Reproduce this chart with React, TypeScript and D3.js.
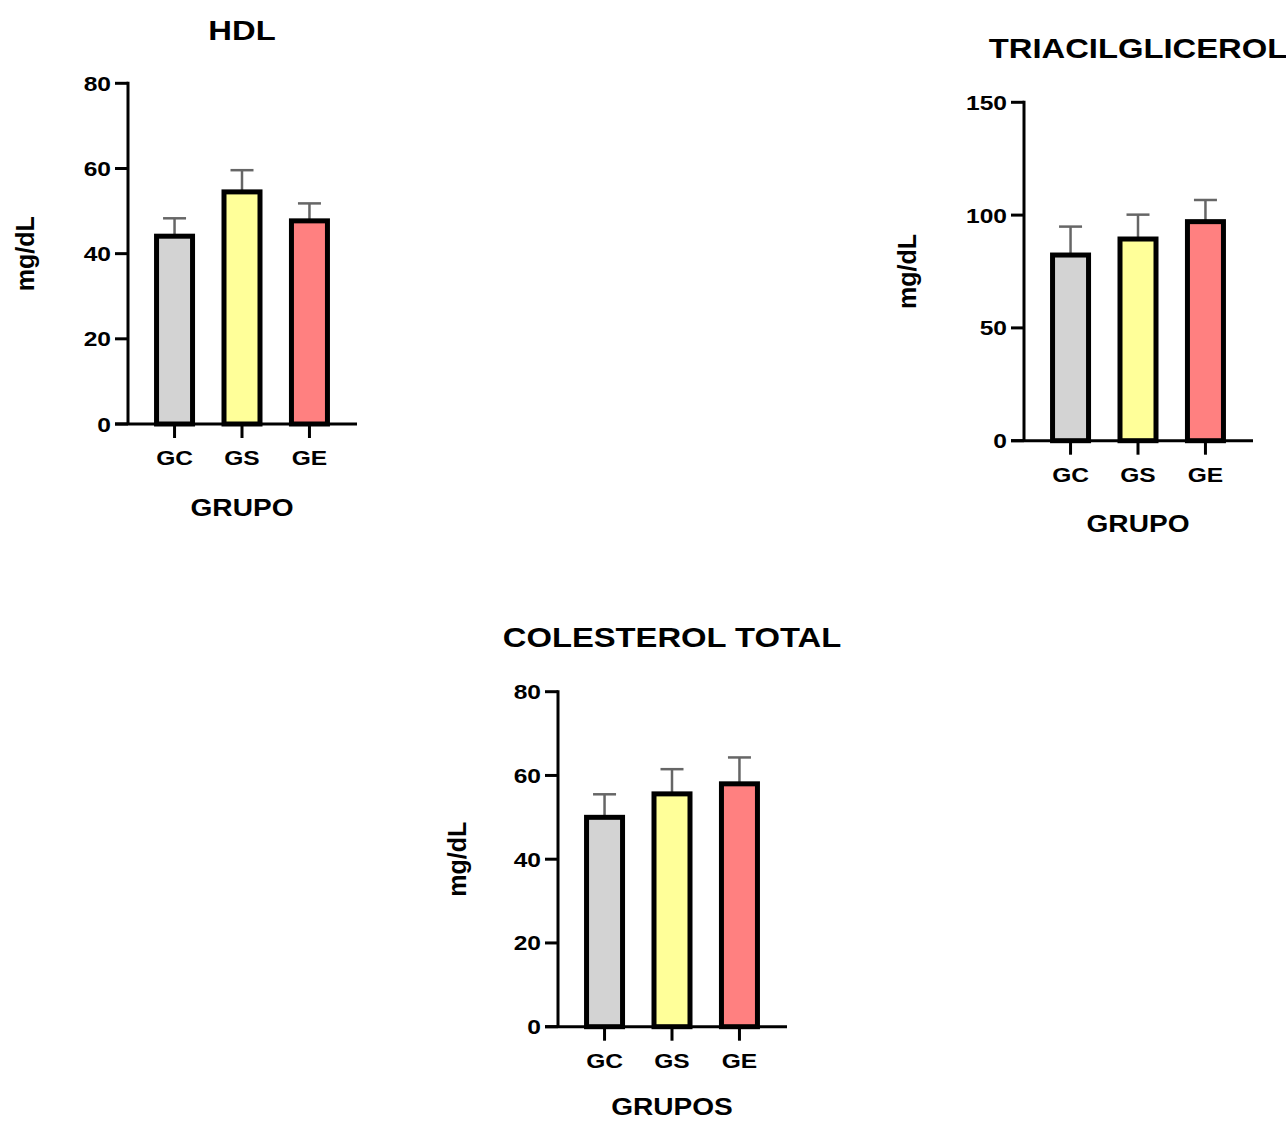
import React from "react";
import * as d3 from "d3";

const categories = ["GC", "GS", "GE"];
const fills = ["#d3d3d3", "#ffff99", "#ff8080"];

const hdlMean = [44.1, 54.5, 47.7];
const hdlSD = [4.2, 5.1, 4.1];
const hdlTicks = [0, 20, 40, 60, 80];

const tagMean = [82.3, 89.4, 97.1];
const tagSD = [12.6, 10.8, 9.6];
const tagTicks = [0, 50, 100, 150];

const ctMean = [50.0, 55.6, 58.0];
const ctSD = [5.5, 5.9, 6.3];
const ctTicks = [0, 20, 40, 60, 80];

const FONT = "'Liberation Sans', Arial, sans-serif";
const SX = 1.17;

function SText({ x, y, anchor = "middle", size, rotate = false, sx = SX, children }: any) {
  return (
    <g transform={`translate(${x},${y}) scale(${sx},1)${rotate ? " rotate(-90)" : ""}`}>
      <text
        textAnchor={anchor}
        fontFamily={FONT}
        fontWeight="bold"
        fontSize={size}
        fill="#000"
      >
        {children}
      </text>
    </g>
  );
}

function Panel({ title, xLabel, means, sds, ticks, ax, y0, yTop, titleY, xLabelY, ylabX }: any) {
  const max = ticks[ticks.length - 1];
  const y = d3.scaleLinear().domain([0, max]).range([y0, yTop]);
  const x = d3.scalePoint<string>().domain(categories).range([ax, ax + 228]).padding(0.69);
  const barW = 36;
  const capW = 23;
  const mid = (x("GC")! + x("GE")!) / 2;
  return (
    <g>
      <SText x={mid} y={titleY} size={28}>{title}</SText>
      {categories.map((c, i) => (
        <g key={c}>
          <line x1={x(c)} x2={x(c)} y1={y(means[i])} y2={y(means[i] + sds[i])} stroke="#666" strokeWidth={2.5} />
          <line x1={x(c)! - capW / 2} x2={x(c)! + capW / 2} y1={y(means[i] + sds[i])} y2={y(means[i] + sds[i])} stroke="#666" strokeWidth={2.5} />
          <rect x={x(c)! - barW / 2} y={y(means[i])} width={barW} height={y0 - y(means[i])} fill={fills[i]} stroke="#000" strokeWidth={5} />
        </g>
      ))}
      <line x1={ax} x2={ax} y1={yTop - 1.5} y2={y0} stroke="#000" strokeWidth={3} />
      {ticks.map((t: number) => (
        <g key={t}>
          <line x1={ax - 13} x2={ax} y1={y(t)} y2={y(t)} stroke="#000" strokeWidth={3} />
          <SText x={ax - 17} y={y(t) + 7.5} anchor="end" size={21}>{t}</SText>
        </g>
      ))}
      <line x1={ax - 13} x2={ax + 229} y1={y0} y2={y0} stroke="#000" strokeWidth={3} />
      {categories.map((c) => (
        <g key={c}>
          <line x1={x(c)} x2={x(c)} y1={y0} y2={y0 + 14} stroke="#000" strokeWidth={3} />
          <SText x={x(c)} y={y0 + 41} size={21}>{c}</SText>
        </g>
      ))}
      <SText x={mid} y={xLabelY} size={24}>{xLabel}</SText>
      <SText x={ylabX} y={(y0 + yTop) / 2} size={25} sx={1} rotate>mg/dL</SText>
    </g>
  );
}

export default function App() {
  return (
    <svg width={1286} height={1122} style={{ position: "absolute", left: 0, top: 0, background: "#fff" }}>
      <rect width={1286} height={1122} fill="#fff" />
      <Panel title="HDL" xLabel="GRUPO" means={hdlMean} sds={hdlSD} ticks={hdlTicks}
        ax={128} y0={424} yTop={83.3} titleY={40} xLabelY={516} ylabX={34} />
      <Panel title="TRIACILGLICEROL" xLabel="GRUPO" means={tagMean} sds={tagSD} ticks={tagTicks}
        ax={1024} y0={440.7} yTop={102.3} titleY={58} xLabelY={532} ylabX={916} />
      <Panel title="COLESTEROL TOTAL" xLabel="GRUPOS" means={ctMean} sds={ctSD} ticks={ctTicks}
        ax={558} y0={1026.7} yTop={691.7} titleY={647} xLabelY={1115} ylabX={466} />
    </svg>
  );
}
